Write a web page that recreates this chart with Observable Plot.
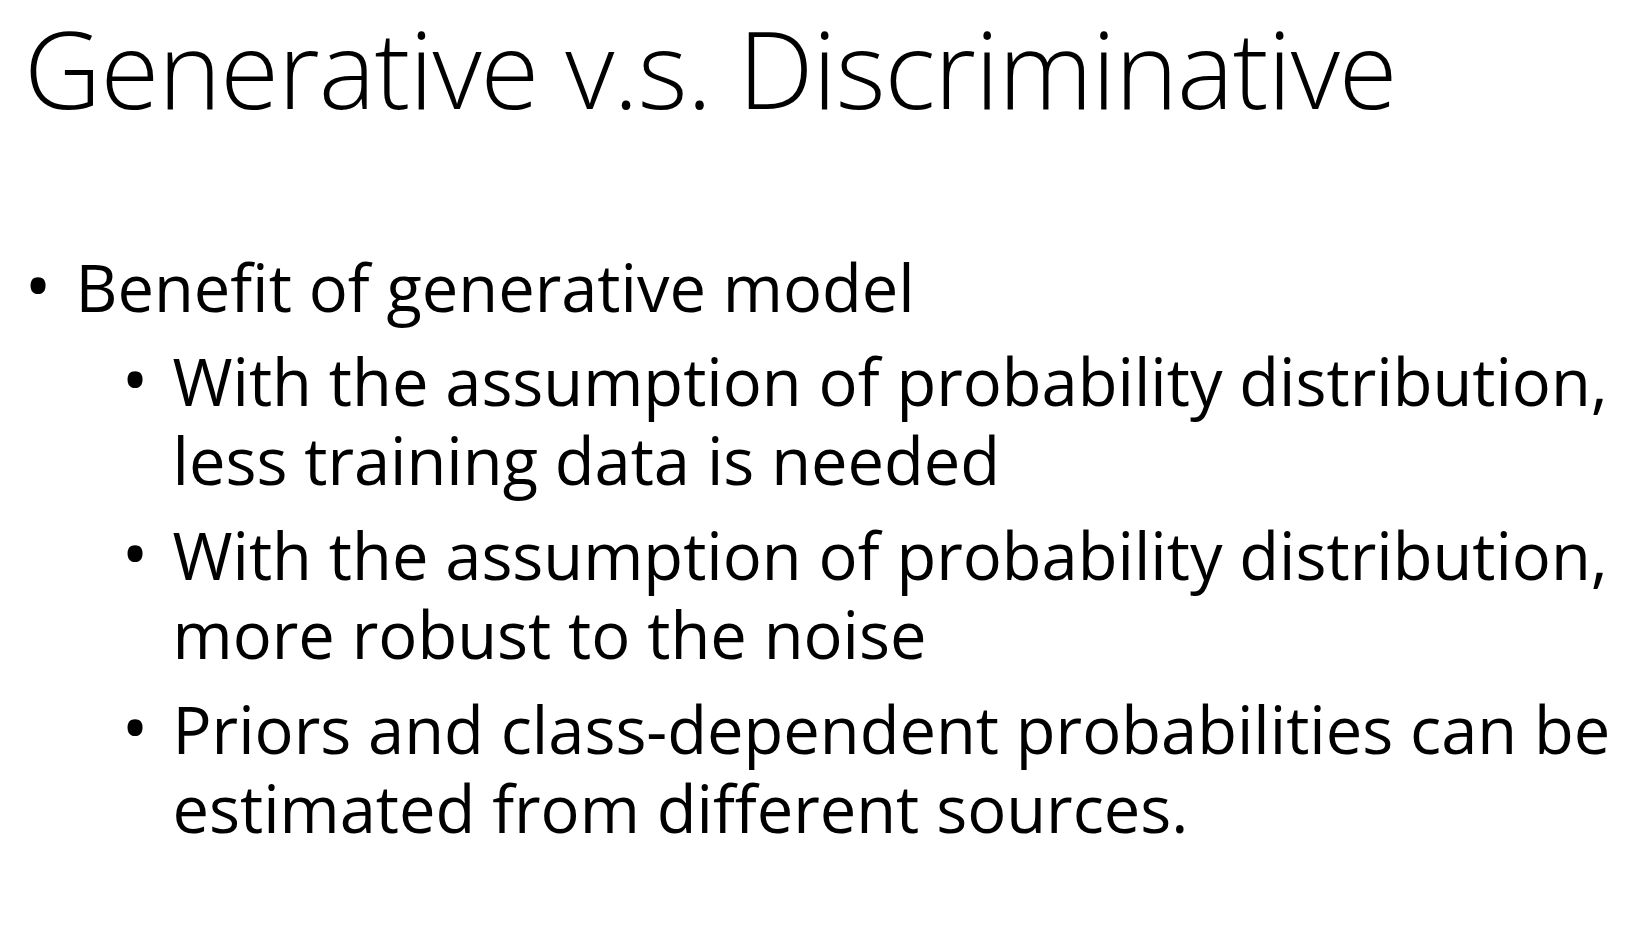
<!DOCTYPE html>
<html>
<head>
<meta charset="utf-8">
<script src="https://cdn.jsdelivr.net/npm/d3@7"></script>
<script src="https://cdn.jsdelivr.net/npm/@observablehq/plot@0.6"></script>
<style>
  body { margin: 0; background: #fff; font-family: "Open Sans", sans-serif; }
  #title { font-weight: 300; font-size: 107px; line-height: 1; padding: 14px 0 0 24px; height: 134px; box-sizing: border-box; letter-spacing: -1px; overflow: visible; white-space: nowrap; }
</style>
</head>
<body>
<div id="title">Generative v.s. Discriminative</div>
<div id="chart"></div>
<script>
// slide bullets: text, indent level; continuation lines have no bullet
const bulletText = [
  ["Benefit of generative model"],
  ["With the assumption of probability distribution,", "less training data is needed"],
  ["With the assumption of probability distribution,", "more robust to the noise"],
  ["Priors and class-dependent probabilities can be", "estimated from different sources."]
];
const bulletLevel = [1, 2, 2, 2];

const lines = [];
let row = 0;
bulletText.forEach((item, i) => {
  if (i > 0) row += 1.2;
  item.forEach((t, k) => {
    if (k > 0) row += 1;
    lines.push({text: t, level: bulletLevel[i], row, first: k === 0});
  });
});

const chart = Plot.plot({
  width: 1630,
  height: 798,
  margin: 0,
  x: {type: "linear", domain: [0, 2], range: [-22, 172], axis: null},
  y: {type: "linear", domain: [0, 10], range: [177, 177 + 10 * 79], axis: null},
  marks: [
    Plot.text(lines.filter(d => d.first), {
      x: d => d.level - 0.5, y: "row", text: () => "•", dx: 11,
      textAnchor: "middle", lineAnchor: "bottom", fontSize: 72, fill: "#000"
    }),
    Plot.text(lines, {
      x: "level", y: "row", text: "text",
      textAnchor: "start", lineAnchor: "bottom", fontSize: 65, fill: "#000",
      fontFamily: "Open Sans", letterSpacing: -1.5
    })
  ]
});
chart.setAttribute("font-family", "Open Sans");
document.getElementById("chart").append(chart);
</script>
</body>
</html>
